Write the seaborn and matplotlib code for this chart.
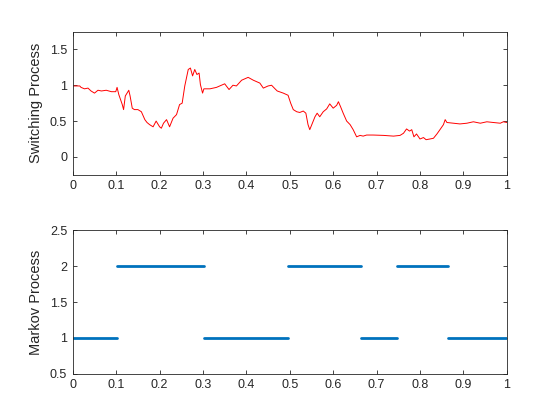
import pandas as pd
import numpy as np
import matplotlib
matplotlib.use("Agg")
import matplotlib.pyplot as plt
import seaborn as sns

# switching process
t_switch = [0.000, 0.016, 0.019, 0.027, 0.035, 0.042, 0.050, 0.058, 0.066, 0.077,
            0.089, 0.099, 0.102, 0.106, 0.110, 0.114, 0.117, 0.121, 0.125, 0.129,
            0.132, 0.137, 0.142, 0.150, 0.158, 0.166, 0.171, 0.177, 0.185, 0.192,
            0.200, 0.204, 0.209, 0.216, 0.223, 0.231, 0.239, 0.246, 0.252, 0.258,
            0.266, 0.271, 0.276, 0.281, 0.286, 0.291, 0.294, 0.299, 0.302, 0.316,
            0.331, 0.350, 0.360, 0.369, 0.377, 0.389, 0.404, 0.416, 0.431, 0.439,
            0.450, 0.458, 0.466, 0.471, 0.485, 0.496, 0.502, 0.508, 0.516, 0.523,
            0.531, 0.537, 0.542, 0.546, 0.552, 0.558, 0.563, 0.569, 0.577, 0.585,
            0.592, 0.600, 0.608, 0.612, 0.617, 0.623, 0.631, 0.639, 0.646, 0.654,
            0.662, 0.669, 0.677, 0.692, 0.716, 0.739, 0.754, 0.762, 0.769, 0.776,
            0.781, 0.786, 0.792, 0.800, 0.808, 0.814, 0.823, 0.831, 0.839, 0.846,
            0.854, 0.858, 0.862, 0.877, 0.892, 0.908, 0.923, 0.939, 0.954, 0.969,
            0.985, 0.992, 1.000]
v_switch = [0.99, 0.99, 0.97, 0.95, 0.96, 0.92, 0.89, 0.93, 0.92, 0.93,
            0.91, 0.91, 0.97, 0.87, 0.80, 0.73, 0.66, 0.85, 0.89, 0.93,
            0.85, 0.68, 0.66, 0.66, 0.63, 0.52, 0.48, 0.45, 0.42, 0.50,
            0.42, 0.40, 0.47, 0.52, 0.42, 0.54, 0.59, 0.73, 0.75, 0.99,
            1.22, 1.24, 1.13, 1.22, 1.15, 1.17, 1.01, 0.89, 0.95, 0.95,
            0.97, 1.02, 0.94, 1.00, 0.99, 1.07, 1.11, 1.07, 1.03, 0.96,
            0.99, 1.00, 0.95, 0.92, 0.89, 0.86, 0.75, 0.66, 0.63, 0.62,
            0.64, 0.61, 0.45, 0.38, 0.47, 0.56, 0.61, 0.56, 0.63, 0.67,
            0.74, 0.68, 0.72, 0.77, 0.70, 0.61, 0.50, 0.45, 0.38, 0.28,
            0.30, 0.29, 0.305, 0.305, 0.30, 0.29, 0.30, 0.33, 0.39, 0.36,
            0.38, 0.28, 0.32, 0.25, 0.27, 0.24, 0.25, 0.26, 0.32, 0.38,
            0.45, 0.52, 0.48, 0.47, 0.46, 0.47, 0.49, 0.47, 0.49, 0.48,
            0.47, 0.49, 0.48]

# markov regimes: start, end, state
seg_start = [0.000, 0.102, 0.302, 0.497, 0.664, 0.747, 0.865]
seg_end = [0.102, 0.302, 0.497, 0.664, 0.747, 0.865, 1.000]
seg_state = [1, 2, 1, 2, 1, 2, 1]

sns.set_style("ticks")
plt.rcParams['font.family'] = ['Liberation Sans', 'DejaVu Sans']
plt.rcParams['font.size'] = 9

fig = plt.figure(figsize=(5.6, 4.2), dpi=100)
ax1 = fig.add_axes([0.13, 0.5838, 0.775, 0.3412])
ax2 = fig.add_axes([0.13, 0.11, 0.775, 0.3412])

df_s = pd.DataFrame({'t': t_switch, 'v': v_switch})
sns.lineplot(data=df_s, x='t', y='v', ax=ax1, color='red', linewidth=0.7,
             sort=False, estimator=None)

rows = []
for i, (a, b, s) in enumerate(zip(seg_start, seg_end, seg_state)):
    rows.append({'t': a, 'state': s, 'seg': i})
    rows.append({'t': b, 'state': s, 'seg': i})
df_m = pd.DataFrame(rows)
sns.lineplot(data=df_m, x='t', y='state', units='seg', estimator=None, ax=ax2,
             color='#0072BD', linewidth=2.0, sort=False)

ax1.set_xlim(0, 1)
ax1.set_ylim(-0.25, 1.75)
ax1.set_yticks([0, 0.5, 1, 1.5])
ax1.set_yticklabels(['0', '0.5', '1', '1.5'])
ax1.set_ylabel('Switching Process', fontsize=10.5, color='#262626', labelpad=5)

ax2.set_xlim(0, 1)
ax2.set_ylim(0.5, 2.5)
ax2.set_yticks([0.5, 1, 1.5, 2, 2.5])
ax2.set_yticklabels(['0.5', '1', '1.5', '2', '2.5'])
ax2.set_ylabel('Markov Process', fontsize=10.5, color='#262626', labelpad=5)

xt = np.arange(0, 11) / 10
xl = ['0'] + [f'{v:g}' for v in xt[1:-1]] + ['1']
for ax in (ax1, ax2):
    ax.set_xticks(xt)
    ax.set_xticklabels(xl)
    ax.set_xlabel('')
    ax.tick_params(direction='in', length=3, width=0.6, top=True, right=True,
                   colors='#262626', labelsize=9, pad=4)
    for sp in ax.spines.values():
        sp.set_visible(True)
        sp.set_color('#262626')
        sp.set_linewidth(0.6)

fig.savefig('out.png', dpi=100)
